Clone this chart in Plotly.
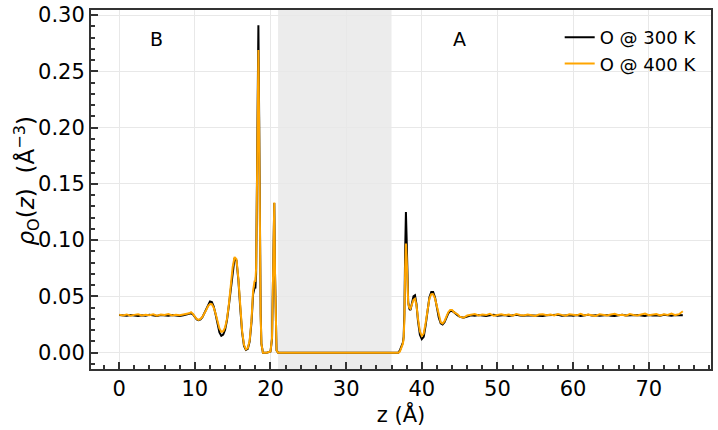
import plotly.graph_objects as go

# ---- data ----
z_seg1 = [0.0, 0.5, 1.0, 1.5, 2.0, 2.5, 3.0, 3.5, 4.0, 4.5, 5.0, 5.5, 6.0, 6.5, 7.0, 7.5, 8.0, 8.5, 9.0]
rho300_seg1 = [0.0335, 0.0330, 0.0328, 0.0334, 0.0331, 0.0326, 0.0333, 0.0329, 0.0336, 0.0330,
               0.0327, 0.0334, 0.0331, 0.0328, 0.0335, 0.0330, 0.0326, 0.0332, 0.0338]
rho400_seg1 = [0.0338, 0.0331, 0.0340, 0.0329, 0.0336, 0.0342, 0.0330, 0.0337, 0.0333, 0.0341,
               0.0329, 0.0338, 0.0334, 0.0343, 0.0330, 0.0337, 0.0332, 0.0340, 0.0345]

z_seg2 = [9.25, 9.5, 9.75, 10.0, 10.25, 10.5, 10.75, 11.0, 11.25, 11.5, 11.75, 12.0, 12.25, 12.5,
          12.75, 13.0, 13.25, 13.5, 13.75, 14.0, 14.25, 14.5, 14.75, 15.0, 15.25, 15.5, 15.75,
          16.0, 16.25, 16.5, 16.75, 17.0, 17.25, 17.5]
rho300_seg2 = [0.0345, 0.0350, 0.0340, 0.0315, 0.0295, 0.0288, 0.0295, 0.0315, 0.0350, 0.0395,
               0.0435, 0.0455, 0.0450, 0.0410, 0.0340, 0.0250, 0.0180, 0.0150, 0.0160, 0.0205,
               0.0290, 0.0420, 0.0580, 0.0740, 0.0840, 0.0820, 0.0650, 0.0400, 0.0180, 0.0060,
               0.0025, 0.0035, 0.0100, 0.0280]
rho400_seg2 = [0.0350, 0.0360, 0.0345, 0.0320, 0.0300, 0.0292, 0.0300, 0.0318, 0.0345, 0.0380,
               0.0415, 0.0432, 0.0430, 0.0400, 0.0345, 0.0275, 0.0215, 0.0185, 0.0190, 0.0225,
               0.0300, 0.0430, 0.0600, 0.0760, 0.0850, 0.0830, 0.0660, 0.0410, 0.0190, 0.0070,
               0.0030, 0.0040, 0.0110, 0.0300]

z_seg3 = [17.7, 17.9, 18.0, 18.1, 18.2, 18.3, 18.4, 18.5, 18.6, 18.7, 18.8, 18.9, 19.0, 19.5,
          20.0, 20.2, 20.3, 20.4, 20.5, 20.6, 20.7, 20.8, 21.0]
rho300_seg3 = [0.052, 0.058, 0.057, 0.070, 0.150, 0.262, 0.291, 0.210, 0.100, 0.035, 0.008, 0.001,
               0.0, 0.0, 0.001, 0.012, 0.060, 0.125, 0.133, 0.070, 0.015, 0.002, 0.0]
rho400_seg3 = [0.055, 0.064, 0.063, 0.075, 0.150, 0.245, 0.269, 0.200, 0.095, 0.033, 0.008, 0.001,
               0.0, 0.0, 0.001, 0.013, 0.062, 0.127, 0.1335, 0.070, 0.015, 0.002, 0.0]

z_seg4 = [22.0, 24.0, 26.0, 28.0, 30.0, 32.0, 34.0, 35.0, 36.0, 36.5, 36.9]
rho300_seg4 = [0.0, 0.0, 0.0, 0.0, 0.0, 0.0, 0.0, 0.0, 0.0, 0.0, 0.0]
rho400_seg4 = [0.0, 0.0, 0.0, 0.0, 0.0, 0.0, 0.0, 0.0, 0.0, 0.0, 0.0]

z_seg5 = [37.1, 37.3, 37.5, 37.6, 37.7, 37.8, 37.9, 38.0, 38.1, 38.2, 38.35, 38.5, 38.7, 38.9,
          39.1, 39.3, 39.5, 39.75, 40.0, 40.25, 40.5, 40.75, 41.0, 41.25, 41.5, 41.75, 42.0,
          42.25, 42.5, 42.75, 43.0, 43.25, 43.5, 43.75, 44.0, 44.25, 44.5, 44.75, 45.0, 45.5, 46.0]
rho300_seg5 = [0.002, 0.006, 0.009, 0.014, 0.035, 0.090, 0.125, 0.100, 0.065, 0.045, 0.039,
               0.038, 0.044, 0.050, 0.051, 0.043, 0.028, 0.016, 0.012, 0.014, 0.024, 0.038,
               0.049, 0.054, 0.054, 0.049, 0.040, 0.031, 0.026, 0.025, 0.027, 0.031, 0.035,
               0.037, 0.037, 0.036, 0.034, 0.033, 0.032, 0.031, 0.032]
rho400_seg5 = [0.001, 0.004, 0.008, 0.013, 0.030, 0.075, 0.097, 0.085, 0.058, 0.044, 0.040,
               0.039, 0.043, 0.047, 0.048, 0.042, 0.030, 0.019, 0.015, 0.017, 0.026, 0.039,
               0.048, 0.052, 0.052, 0.048, 0.040, 0.032, 0.027, 0.026, 0.028, 0.032, 0.036,
               0.038, 0.038, 0.036, 0.035, 0.034, 0.032, 0.031, 0.033]

z_seg6 = [46.5, 47.0, 47.5, 48.0, 48.5, 49.0, 49.5, 50.0, 50.5, 51.0,
          51.5, 52.0, 52.5, 53.0, 53.5, 54.0, 54.5, 55.0, 55.5, 56.0,
          56.5, 57.0, 57.5, 58.0, 58.5, 59.0, 59.5, 60.0, 60.5, 61.0,
          61.5, 62.0, 62.5, 63.0, 63.5, 64.0, 64.5, 65.0, 65.5, 66.0,
          66.5, 67.0, 67.5, 68.0, 68.5, 69.0, 69.5, 70.0, 70.5, 71.0,
          71.5, 72.0, 72.5, 73.0, 73.5, 74.0, 74.5]
rho300_seg6 = [0.0332, 0.0328, 0.0335, 0.0330, 0.0326, 0.0333, 0.0337, 0.0329, 0.0331, 0.0334,
               0.0327, 0.0332, 0.0336, 0.0330, 0.0328, 0.0333, 0.0331, 0.0335, 0.0329, 0.0326,
               0.0332, 0.0334, 0.0330, 0.0337, 0.0328, 0.0331, 0.0333, 0.0329, 0.0335, 0.0327,
               0.0332, 0.0336, 0.0330, 0.0333, 0.0328, 0.0331, 0.0334, 0.0329, 0.0326, 0.0333,
               0.0337, 0.0330, 0.0332, 0.0328, 0.0335, 0.0331, 0.0327, 0.0334, 0.0330, 0.0333,
               0.0329, 0.0336, 0.0331, 0.0328, 0.0334, 0.0330, 0.0332]
rho400_seg6 = [0.0336, 0.0343, 0.0330, 0.0339, 0.0334, 0.0345, 0.0328, 0.0337, 0.0341, 0.0332,
               0.0338, 0.0329, 0.0344, 0.0335, 0.0331, 0.0340, 0.0336, 0.0327, 0.0339, 0.0342,
               0.0333, 0.0338, 0.0330, 0.0344, 0.0336, 0.0329, 0.0341, 0.0335, 0.0332, 0.0346,
               0.0331, 0.0338, 0.0334, 0.0327, 0.0342, 0.0337, 0.0330, 0.0339, 0.0345, 0.0333,
               0.0336, 0.0329, 0.0343, 0.0335, 0.0331, 0.0340, 0.0347, 0.0333, 0.0338, 0.0344,
               0.0330, 0.0341, 0.0336, 0.0348, 0.0334, 0.0342, 0.0368]

z = z_seg1 + z_seg2 + z_seg3 + z_seg4 + z_seg5 + z_seg6
rho_300K = rho300_seg1 + rho300_seg2 + rho300_seg3 + rho300_seg4 + rho300_seg5 + rho300_seg6
rho_400K = rho400_seg1 + rho400_seg2 + rho400_seg3 + rho400_seg4 + rho400_seg5 + rho400_seg6
assert len(z) == len(rho_300K) == len(rho_400K)

series_names = ["O @ 300 K", "O @ 400 K"]
region_span = [21.0, 36.0]
region_labels = ["B", "A"]
region_label_x = [4.9, 45.0]

FONT = "DejaVu Sans"

fig = go.Figure()
fig.add_trace(go.Scatter(x=z, y=rho_300K, mode="lines", name=series_names[0],
                         line=dict(color="black", width=2)))
fig.add_trace(go.Scatter(x=z, y=rho_400K, mode="lines", name=series_names[1],
                         line=dict(color="#FFA500", width=2)))

fig.add_shape(type="rect", xref="x", yref="paper", x0=region_span[0], x1=region_span[1],
              y0=0, y1=1, fillcolor="rgba(128,128,128,0.15)", line=dict(width=0), layer="below")

for lab, lx in zip(region_labels, region_label_x):
    fig.add_annotation(x=lx, y=0.279, text=lab, showarrow=False,
                       font=dict(family=FONT, size=19, color="black"))

# y-axis title as a rotated annotation (placed like the reference)
fig.add_annotation(xref="paper", yref="paper", x=0, y=0.5, xshift=-65, yshift=8,
                   xanchor="center", yanchor="middle", textangle=-90, showarrow=False,
                   text="<i>ρ</i><sub>O</sub>(<i>z</i>)  (Å<sup>−3</sup>)",
                   font=dict(family=FONT, size=23, color="black"))

axis_common = dict(
    showline=True, linecolor="#333333", linewidth=2, mirror=True,
    ticks="inside", ticklen=7, tickwidth=1.5, tickcolor="#333333",
    showgrid=True, gridcolor="#e8e8e8", gridwidth=1, zeroline=False,
    tickfont=dict(family=FONT, size=21, color="black"),
    ticklabeloverflow="allow",
    automargin=False,
)

fig.update_xaxes(range=[-3.725, 78.225], tick0=0, dtick=10,
                 minor=dict(ticks="inside", dtick=2, ticklen=4, tickcolor="#333333", showgrid=False),
                 title=dict(text="z (Å)", font=dict(family=FONT, size=21, color="black"), standoff=0),
                 **axis_common)
fig.update_yaxes(range=[-0.0145, 0.3045], tick0=0, dtick=0.05, tickformat=".2f",
                 minor=dict(ticks="inside", dtick=0.01, ticklen=4, tickcolor="#333333", showgrid=False),
                 **axis_common)

fig.update_layout(
    width=718, height=430,
    margin=dict(l=91, r=7, t=10, b=61),
    paper_bgcolor="white", plot_bgcolor="white",
    font=dict(family=FONT, color="black"),
    legend=dict(x=0.985, y=0.975, xanchor="right", yanchor="top",
                bgcolor="rgba(255,255,255,0)", borderwidth=0,
                font=dict(family=FONT, size=18, color="black")),
)

# remove the default 8 px page margin so the figure fills the window exactly
fig.write_html("out.html", config={"displayModeBar": False},
               post_script="document.body.style.margin='0';")
